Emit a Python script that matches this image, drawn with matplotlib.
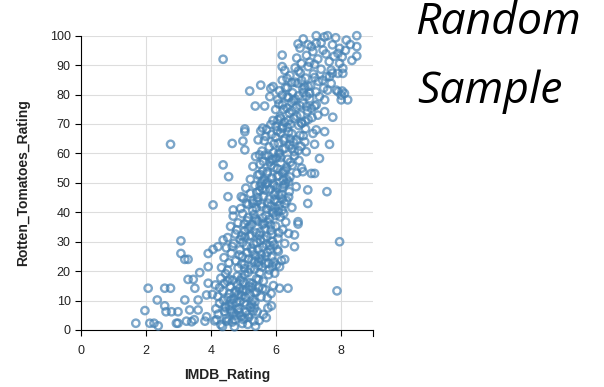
import matplotlib

matplotlib.use("Agg")
import matplotlib.pyplot as plt

# sparse points (IMDB, Rotten Tomatoes)
sparse_imdb = [
    1.69, 2.12, 2.25, 2.38, 2.94, 2.99, 3.41, 3.87, 3.25, 3.49, 3.82, 4.18, 4.48, 4.74, 5.05,
    1.97, 2.62, 2.79, 2.58, 2.35, 2.07, 2.58, 2.76, 2.99, 3.35, 3.61, 3.2, 3.61, 3.87, 3.51,
    3.92, 5.87, 6.12, 6.38, 7.89, 5.76, 5.35, 4.64,
    3.3, 3.46, 3.66, 3.92, 3.2, 3.3, 3.08, 3.08, 3.92, 4.07, 4.22, 4.38, 6.12, 5.97, 6.28,
    6.28, 6.58, 6.58, 7.97,
    4.07, 4.69, 4.53, 4.94, 5.1, 5.3, 6.69, 6.69, 6.99,
    4.55, 4.38, 6.99, 7.58, 6.63, 6.84, 7.1, 7.2, 7.35,
    2.76, 4.66, 4.99, 5.05, 5.46, 5.05, 5.54, 5.05, 5.6, 7.51, 7.66, 7.2, 6.94, 7.15, 7.25,
    7.76, 7.51,
    5.37, 5.66, 5.2, 5.54, 5.85, 5.92, 5.82, 6.07, 7.71, 7.87, 7.92, 8.02, 8.12, 8.02, 8.05,
    8.22, 7.35, 7.51, 7.25, 7.71, 7.66, 7.75, 7.92, 8.07, 8.07,
    4.38, 6.2, 6.2, 6.79, 7.97, 6.69, 7.25, 7.6, 7.25, 8.5, 8.5, 8.5, 8.18, 7.97, 7.92, 7.46,
    7.1,
]
sparse_rt = [
    2.3, 2.3, 2.3, 1.4, 2.3, 2.3, 2.8, 4.5, 3.0, 3.5, 3.0, 3.5, 3.0, 3.5, 4.0,
    6.6, 6.2, 6.2, 8.2, 10.2, 14.2, 14.2, 14.2, 6.2, 6.8, 6.8, 10.2, 10.2, 11.9, 14.2,
    15.9, 8.2, 14.2, 14.2, 13.3, 7.5, 7.5, 6.2,
    17.2, 17.2, 19.5, 21.5, 24.0, 24.0, 26.0, 30.3, 26.0, 27.4, 28.3, 30.6, 21.5, 19.3, 24.0,
    29.4, 28.3, 32.3, 30.0,
    42.5, 40.8, 45.3, 45.3, 43.1, 43.1, 36.8, 36.0, 43.0,
    52.1, 56.1, 47.6, 47.0, 48.7, 53.8, 53.2, 53.2, 58.3,
    63.1, 63.4, 64.2, 61.2, 64.6, 67.4, 67.6, 68.3, 68.6, 67.4, 63.1, 63.1, 60.6, 66.8, 68.0,
    72.3, 74.2,
    76.1, 76.1, 81.2, 83.2, 82.1, 82.7, 79.3, 71.4, 83.8, 81.5, 81.0, 79.8, 80.4, 78.2, 81.2,
    78.2, 79.3, 78.2, 76.5, 88.3, 86.1, 87.3, 87.2, 88.9, 87.2,
    92.0, 93.4, 89.5, 90.6, 90.6, 97.2, 100.0, 100.0, 97.4, 100.0, 96.3, 93.1, 98.5, 95.7, 94.0,
    95.1, 96.3,
]

# body of the cloud, band by band (RT 0-10, 10-20, ... 90-100)
dense_imdb = [
    4.12, 4.23, 4.31, 4.42, 4.48, 4.57, 4.66, 4.78, 4.86, 4.97, 5.08, 5.17, 5.26, 5.49, 5.62,
    4.27, 4.44, 4.63, 4.84, 5.03, 5.22, 5.43, 4.36, 4.55, 4.73, 4.93, 5.14, 5.33, 5.71, 4.16,
    4.6, 5.0, 5.38, 4.79, 4.39,
    4.05, 4.14, 4.22, 4.31, 4.38, 4.46, 4.53, 4.61, 4.68, 4.74, 4.82, 4.88, 4.95, 5.02, 5.09,
    5.15, 5.21, 5.28, 5.34, 5.41, 5.47, 5.55, 5.62, 5.69, 5.78, 5.86, 5.93, 4.27, 4.57, 4.91,
    5.18, 5.51, 4.7, 5.3, 4.42, 5.05, 5.74, 4.98, 5.6, 4.85,
    4.33, 4.41, 4.48, 4.56, 4.63, 4.71, 4.77, 4.84, 4.9, 4.97, 5.03, 5.1, 5.16, 5.22, 5.29,
    5.35, 5.42, 5.48, 5.55, 5.61, 5.68, 5.74, 5.8, 5.87, 5.95, 6.02, 6.08, 6.18, 4.52, 4.88,
    5.25, 5.58, 5.9, 4.66, 5.05, 5.38, 5.71, 4.99, 5.46, 5.83,
    4.52, 4.61, 4.69, 4.76, 4.84, 4.91, 4.98, 5.05, 5.12, 5.19, 5.26, 5.33, 5.4, 5.47, 5.53,
    5.6, 5.67, 5.73, 5.8, 5.86, 5.93, 6.0, 6.07, 6.14, 6.22, 6.31, 6.4, 4.8, 5.15, 5.5,
    5.85, 6.1, 5.03, 5.37, 5.7, 6.25, 4.95, 5.64,
    4.92, 5.0, 5.08, 5.15, 5.22, 5.29, 5.36, 5.43, 5.5, 5.57, 5.63, 5.7, 5.76, 5.83, 5.9,
    5.97, 6.04, 6.11, 6.18, 6.26, 6.34, 6.42, 6.5, 5.45, 5.85, 6.2, 5.6, 5.3, 6.0, 6.4,
    5.72, 6.08, 5.4, 6.3, 5.55, 5.95,
    5.22, 5.3, 5.38, 5.45, 5.52, 5.6, 5.67, 5.74, 5.81, 5.88, 5.95, 6.02, 6.09, 6.16, 6.23,
    6.3, 6.37, 6.44, 6.51, 6.58, 6.65, 6.72, 5.6, 5.9, 6.2, 6.45, 5.75, 6.05, 6.35, 5.5,
    6.8, 6.12,
    5.58, 5.65, 5.72, 5.8, 5.87, 5.94, 6.01, 6.08, 6.15, 6.22, 6.29, 6.36, 6.43, 6.5, 6.57,
    6.64, 6.71, 6.78, 6.85, 6.92, 6.0, 6.3, 6.55, 5.85, 6.2, 6.45, 6.7, 6.1, 5.7, 6.4,
    5.92, 6.0, 6.07, 6.14, 6.21, 6.28, 6.35, 6.42, 6.49, 6.56, 6.63, 6.7, 6.77, 6.84, 6.91,
    6.98, 7.05, 7.12, 7.2, 7.3, 6.5, 6.8, 6.25, 6.6, 6.95, 7.1, 6.4, 6.2, 6.75, 7.0,
    6.12, 6.2, 6.28, 6.36, 6.44, 6.52, 6.6, 6.68, 6.76, 6.84, 6.92, 7.0, 7.08, 7.16, 7.24,
    7.32, 7.4, 7.48, 7.56, 6.5, 6.9, 7.2, 6.7, 7.05, 6.35, 7.45, 6.8, 7.6,
    6.65, 6.75, 6.85, 6.95, 7.05, 7.15, 7.3, 7.4, 7.55, 7.65, 7.75, 7.85, 8.05, 8.15, 8.3,
    8.35, 7.0, 7.5, 7.2, 7.8,
]
dense_rt = [
    3.1, 5.4, 1.8, 6.3, 3.9, 8.2, 2.7, 5.1, 7.4, 2.2, 6.1, 4.3, 8.8, 3.2, 5.3,
    9.1, 8.0, 10.2, 6.8, 9.3, 7.7, 6.2, 1.2, 3.4, 1.1, 4.8, 1.9, 3.1, 4.2, 7.2,
    6.9, 3.6, 1.3, 9.4, 10.1,
    12.1, 15.3, 11.4, 17.6, 13.2, 19.1, 11.0, 14.7, 16.9, 12.6, 18.3, 14.1, 11.7, 16.2, 13.4,
    19.6, 11.9, 15.8, 12.8, 17.4, 14.3, 11.2, 16.6, 13.7, 18.8, 12.4, 15.1, 14.4, 17.3, 16.8,
    14.9, 19.4, 10.6, 10.3, 15.9, 18.9, 10.9, 13.0, 14.0, 12.0,
    21.2, 24.6, 27.9, 22.8, 26.1, 29.4, 23.5, 21.1, 27.2, 25.0, 22.3, 28.6, 24.1, 20.7, 26.8,
    23.3, 29.7, 21.9, 25.6, 28.2, 22.6, 26.4, 20.4, 24.8, 28.9, 22.1, 26.7, 23.6, 20.3, 25.5,
    27.8, 23.9, 21.6, 28.4, 20.9, 25.2, 29.1, 29.8, 23.0, 27.4,
    31.4, 35.2, 38.7, 32.6, 36.4, 30.8, 39.5, 33.7, 37.1, 31.9, 35.8, 39.2, 33.0, 36.9, 30.5,
    38.1, 34.4, 31.7, 37.6, 33.9, 39.8, 35.3, 31.2, 38.4, 34.1, 36.7, 32.8, 34.0, 34.6, 32.2,
    35.7, 33.0, 36.0, 38.0, 39.0, 39.6, 32.0, 36.2,
    41.3, 44.8, 48.2, 42.6, 46.4, 40.7, 49.1, 43.7, 47.3, 41.9, 45.5, 49.6, 43.1, 47.8, 40.4,
    44.2, 48.5, 42.3, 46.1, 49.3, 43.9, 47.0, 41.6, 45.0, 42.0, 44.5, 48.0, 44.0, 46.8, 45.2,
    41.0, 40.2, 41.5, 49.8, 49.9, 49.0,
    51.2, 55.6, 58.9, 52.7, 56.3, 50.5, 59.4, 53.8, 57.1, 51.6, 55.2, 58.5, 52.4, 56.9, 50.9,
    54.3, 58.0, 52.0, 55.9, 59.2, 53.3, 57.6, 54.0, 58.0, 53.5, 57.0, 50.2, 54.8, 51.1, 59.5,
    55.0, 59.8,
    60.8, 64.3, 68.1, 62.2, 66.4, 60.3, 69.2, 63.5, 67.0, 61.4, 65.1, 68.8, 62.9, 66.7, 60.6,
    64.6, 69.5, 62.4, 66.0, 68.4, 65.5, 61.8, 63.8, 69.8, 69.0, 64.9, 61.0, 60.2, 65.8, 67.3,
    71.2, 74.9, 78.3, 72.4, 76.5, 70.6, 79.2, 73.8, 77.4, 71.9, 75.6, 79.6, 73.1, 77.0, 70.9,
    74.5, 78.6, 72.2, 76.1, 73.0, 74.5, 70.2, 75.0, 78.5, 79.5, 75.3, 71.2, 79.8, 76.2, 71.5,
    81.3, 84.9, 88.2, 82.4, 86.5, 80.6, 89.1, 83.8, 87.4, 81.9, 85.6, 89.5, 83.1, 87.0, 80.9,
    84.5, 88.6, 82.2, 86.1, 84.0, 82.5, 85.8, 88.0, 80.4, 85.5, 84.9, 84.8, 81.5,
    92.4, 95.8, 98.9, 93.3, 91.0, 94.6, 92.1, 97.6, 93.8, 91.2, 96.9, 99.3, 92.8, 95.0, 97.0,
    91.6, 97.0, 99.6, 90.3, 93.0,
]

# the thick core along the diagonal
core_imdb = [
    4.45, 4.58, 4.7, 4.81, 4.9, 5.0, 5.1, 5.2, 5.3, 5.4, 4.52, 4.65, 4.76, 4.87, 4.96,
    5.07, 5.16, 5.27, 5.36, 5.47,
    4.95, 5.05, 5.12, 5.2, 5.27, 5.33, 5.4, 5.46, 5.52, 5.58, 5.64, 5.7, 5.76, 5.82, 5.88,
    5.94, 6.0, 5.15, 5.25, 5.5, 5.6, 5.78, 5.9, 6.05, 5.35,
    5.42, 5.5, 5.56, 5.62, 5.68, 5.74, 5.8, 5.86, 5.92, 5.98, 6.04, 6.1, 6.16, 6.22, 6.28,
    6.34, 6.4, 5.65, 5.95, 6.25, 5.78, 6.05, 5.52, 6.2, 5.88,
    5.95, 6.05, 6.15, 6.25, 6.35, 6.45, 6.55, 6.65, 6.75, 6.85, 6.95, 6.1, 6.3, 6.5, 6.6,
    6.8, 6.4, 6.2, 6.9, 7.0,
]
core_rt = [
    7.5, 12.3, 5.7, 15.4, 9.8, 13.7, 8.6, 16.1, 6.4, 12.9, 16.6, 9.1, 13.3, 6.0, 17.8,
    11.1, 5.2, 14.5, 9.5, 17.1,
    22.4, 31.6, 26.3, 35.1, 23.8, 29.2, 37.4, 27.5, 33.3, 21.4, 30.9, 25.1, 36.6, 28.7, 32.5,
    23.1, 38.9, 38.2, 32.1, 24.4, 35.9, 22.7, 30.1, 27.3, 20.6,
    46.7, 52.9, 42.8, 57.3, 47.5, 53.1, 44.6, 55.9, 49.7, 41.4, 52.2, 45.8, 58.6, 48.4, 42.9,
    55.1, 50.3, 51.0, 46.0, 53.9, 59.1, 43.6, 48.9, 40.8, 57.7,
    63.2, 67.7, 71.8, 64.4, 75.4, 69.9, 78.1, 72.6, 66.2, 80.7, 75.9, 76.8, 82.3, 61.7, 84.2,
    70.4, 79.0, 68.5, 63.9, 82.8,
]

imdb = sparse_imdb + dense_imdb + core_imdb
rt = sparse_rt + dense_rt + core_rt

x_ticks = [0, 2, 4, 6, 8]
y_ticks = [0, 10, 20, 30, 40, 50, 60, 70, 80, 90, 100]

plt.rcParams["font.family"] = ["Liberation Sans", "DejaVu Sans"]

fig = plt.figure(figsize=(6.04, 3.87), dpi=100)
ax = fig.add_axes([81 / 604, 57 / 387, 292 / 604, 294.3 / 387])

ax.scatter(imdb, rt, s=28, facecolors="none", edgecolors="#4682b4",
           linewidths=1.7, alpha=0.7, clip_on=False, zorder=3)

ax.set_xlim(0, 9)
ax.set_ylim(0, 100)
ax.set_xticks(x_ticks)
ax.set_yticks(y_ticks)
ax.grid(True, color="#dddddd", linewidth=0.8)
ax.set_axisbelow(True)
for side in ("top", "right"):
    ax.spines[side].set_visible(False)
for side in ("left", "bottom"):
    ax.spines[side].set_color("#000000")
    ax.spines[side].set_linewidth(0.8)
ax.tick_params(length=4.5, width=0.8, color="#000000", labelsize=9, labelcolor="#222222")
ax.tick_params(axis="x", pad=6)
ax.tick_params(axis="y", pad=3)
# vega draws a tick at the domain end too
ax.plot([9, 9], [0, -2.1], color="#000000", linewidth=0.8, clip_on=False)

ax.set_xlabel("IMDB_Rating", fontsize=10, fontweight="bold", color="#222222", labelpad=8)
ax.set_ylabel("Rotten_Tomatoes_Rating", fontsize=10, fontweight="bold", color="#222222",
              labelpad=14)

title_font = ["Open Sans", "Lato", "DejaVu Sans"]
fig.text(415 / 604, 1 - 34 / 387, "Random", fontsize=32, style="italic",
         family=title_font, va="baseline", ha="left", color="#000000")
fig.text(417 / 604, 1 - 103 / 387, "Sample", fontsize=32, style="italic",
         family=title_font, va="baseline", ha="left", color="#000000")

fig.savefig("out.png", dpi=100)
